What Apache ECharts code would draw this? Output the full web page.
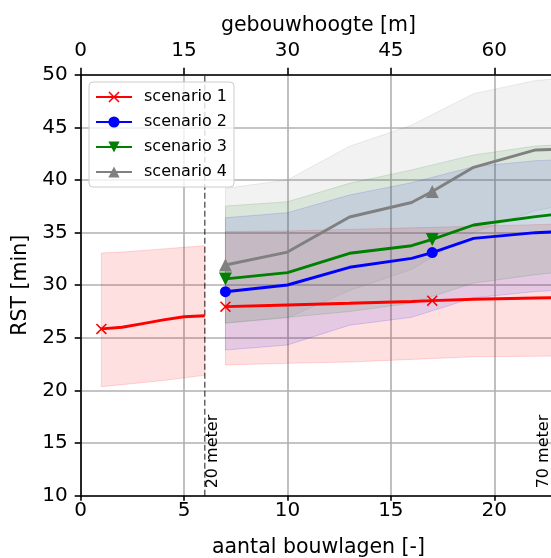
<!DOCTYPE html>
<html>
<head>
<meta charset="utf-8">
<script src="https://cdn.jsdelivr.net/npm/echarts@6/dist/echarts.min.js"></script>
<style>
  html, body { margin: 0; padding: 0; background: #ffffff; }
  #chart { width: 551px; height: 558px; }
</style>
</head>
<body>
<div id="chart"></div>
<script>
// ---------------- data ----------------
const seriesNames = ['scenario 1', 'scenario 2', 'scenario 3', 'scenario 4'];

// scenario 1, left part (low-rise)
const s1LeftX = [1, 2, 3, 4, 5, 6];
const s1LeftY = [25.85, 26.0, 26.35, 26.7, 27.0, 27.1];
const s1LeftLow  = [20.36, 20.55, 20.75, 20.95, 21.2, 21.44];
const s1LeftHigh = [33.05, 33.15, 33.3, 33.45, 33.6, 33.75];

// right part (all scenarios), number of floors
const lineX = [7, 10, 13, 16, 17, 19, 22, 23];
const s1Y = [27.96, 28.12, 28.28, 28.45, 28.53, 28.66, 28.78, 28.81];
const s2Y = [29.38, 30.02, 31.7, 32.55, 33.1, 34.45, 34.99, 35.08];
const s3Y = [30.6, 31.19, 33.03, 33.75, 34.35, 35.72, 36.51, 36.74];
const s4Y = [31.92, 33.15, 36.48, 37.86, 38.9, 41.2, 42.85, 42.9];

// uncertainty bands (right part)
const bandX = [7, 10, 13, 16, 19, 22, 23];
const s1Low  = [22.42, 22.58, 22.7, 22.95, 23.2, 23.25, 23.27];
const s1High = [35.1, 35.15, 35.3, 35.45, 35.6, 35.75, 35.8];
const s2Low  = [23.84, 24.32, 26.2, 26.95, 28.8, 29.4, 29.5];
const s2High = [36.41, 36.89, 38.57, 39.74, 41.26, 41.83, 41.9];
const s3Low  = [26.4, 26.95, 27.5, 28.3, 30.2, 31.0, 31.2];
const s3High = [37.52, 37.93, 39.68, 40.95, 42.37, 43.23, 43.32];
const s4Low  = [26.4, 26.9, 29.5, 31.5, 35.0, 37.1, 37.45];
const s4High = [39.2, 40.0, 43.2, 45.2, 48.2, 49.45, 49.6];

// markers only at these x values
const markerX = [1, 7, 17];

// reference height line and annotations
const refLineX = [6];
const annotX = [6, 22];
const annotY = [10.7, 10.7];
const annotText = ['20 meter', '70 meter'];

// axes
const xMin = 0, xMax = 23, xInterval = 5;
const metersPerFloor = 3;
const topInterval = 15;
const yMin = 10, yMax = 50, yInterval = 5;
const xName = 'aantal bouwlagen [-]';
const topName = 'gebouwhoogte [m]';
const yName = 'RST [min]';

// ---------------- styling ----------------
const FONT = 'DejaVu Sans';
const colors = ['#ff0000', '#0000ff', '#008000', '#808080'];
const bandFill = ['rgba(255,0,0,0.12)', 'rgba(0,0,255,0.1)', 'rgba(0,128,0,0.1)', 'rgba(128,128,128,0.1)'];
const bandEdge = ['rgba(255,0,0,0.15)', 'rgba(0,0,255,0.15)', 'rgba(0,128,0,0.15)', 'rgba(128,128,128,0.15)'];
const xPath = 'path://M2,0L10,8L18,0L20,2L12,10L20,18L18,20L10,12L2,20L0,18L8,10L0,2Z';
const symbols = [xPath, 'circle', 'triangle', 'triangle'];
const symbolRot = [0, 0, 180, 0];
const symbolSizes = [11, 11, 13, 13];

function lineData(xs, ys) {
  return xs.map((x, i) => {
    const show = markerX.indexOf(x) >= 0;
    return { value: [x, ys[i]], symbol: show ? undefined : 'none', symbolSize: show ? undefined : 0 };
  });
}

function bandSeries(xs, lo, hi, k) {
  return {
    type: 'custom',
    silent: true,
    z: 1,
    clip: true,
    data: xs.map((x, i) => [x, lo[i], hi[i]]),
    encode: { x: 0, y: [1, 2] },
    renderItem: function (params, api) {
      if (params.dataIndex !== 0) return;
      const pts = [];
      for (let i = 0; i < xs.length; i++) pts.push(api.coord([xs[i], hi[i]]));
      for (let i = xs.length - 1; i >= 0; i--) pts.push(api.coord([xs[i], lo[i]]));
      return {
        type: 'polygon',
        shape: { points: pts },
        style: { fill: bandFill[k], stroke: bandEdge[k], lineWidth: 1 }
      };
    }
  };
}

function lineSeries(name, xs, ys, k) {
  return {
    name: name,
    type: 'line',
    z: 5,
    data: lineData(xs, ys),
    symbol: symbols[k],
    symbolRotate: symbolRot[k],
    symbolSize: symbolSizes[k],
    showSymbol: true,
    symbolKeepAspect: true,
    lineStyle: { color: colors[k], width: 2.9 },
    itemStyle: { color: colors[k], borderWidth: 0 },
    emphasis: { disabled: true },
    animation: false
  };
}

const series = [
  bandSeries(s1LeftX, s1LeftLow, s1LeftHigh, 0),
  bandSeries(bandX, s1Low, s1High, 0),
  bandSeries(bandX, s2Low, s2High, 1),
  bandSeries(bandX, s3Low, s3High, 2),
  bandSeries(bandX, s4Low, s4High, 3),
  {
    type: 'line',
    z: 3,
    silent: true,
    symbol: 'none',
    data: [[refLineX[0], yMin], [refLineX[0], yMax]],
    lineStyle: { color: 'rgba(0,0,0,0.6)', width: 1.5, type: [6, 3] },
    animation: false
  },
  {
    type: 'custom',
    silent: true,
    z: 6,
    data: annotX.map((x, i) => [x, annotY[i]]),
    encode: { x: 0, y: 1 },
    renderItem: function (params, api) {
      const p = api.coord([annotX[params.dataIndex], annotY[params.dataIndex]]);
      return {
        type: 'text',
        x: p[0],
        y: p[1],
        rotation: Math.PI / 2,
        style: {
          text: annotText[params.dataIndex],
          font: '16px "DejaVu Sans"',
          fill: '#000',
          align: 'left',
          verticalAlign: 'top'
        }
      };
    }
  },
  lineSeries(seriesNames[0], s1LeftX, s1LeftY, 0),
  lineSeries(seriesNames[0], lineX, s1Y, 0),
  lineSeries(seriesNames[1], lineX, s2Y, 1),
  lineSeries(seriesNames[2], lineX, s3Y, 2),
  lineSeries(seriesNames[3], lineX, s4Y, 3)
];

const axisLabelStyle = { color: '#000', fontFamily: FONT, fontSize: 20 };

const option = {
  animation: false,
  backgroundColor: '#ffffff',
  textStyle: { fontFamily: FONT },
  grid: { left: 80.7, top: 74.7, width: 475.6, height: 421, containLabel: false, outerBoundsMode: 'none' },
  legend: {
    data: seriesNames,
    orient: 'vertical',
    left: 89,
    top: 82,
    itemWidth: 36,
    itemHeight: 14,
    itemGap: 9,
    padding: [7, 7, 7, 6],
    backgroundColor: 'rgba(255,255,255,0.8)',
    borderColor: '#cccccc',
    borderWidth: 1,
    borderRadius: 4,
    textStyle: { fontFamily: FONT, fontSize: 16, color: '#000', lineHeight: 16, padding: [0, 0, 0, 7] },
    selectedMode: false
  },
  xAxis: [
    {
      type: 'value',
      position: 'bottom',
      min: xMin, max: xMax, interval: xInterval,
      name: xName,
      nameLocation: 'middle',
      nameGap: 41,
      nameTextStyle: { color: '#000', fontFamily: FONT, fontSize: 20.5 },
      axisLine: { show: true, onZero: false, lineStyle: { color: '#000', width: 1.6 } },
      axisTick: { show: true, length: 5, lineStyle: { color: '#000', width: 1.6 } },
      axisLabel: Object.assign({ margin: 5, showMaxLabel: false }, axisLabelStyle),
      splitLine: { show: true, lineStyle: { color: '#b0b0b0', width: 1.6 } }
    },
    {
      type: 'value',
      position: 'top',
      min: xMin * metersPerFloor, max: xMax * metersPerFloor, interval: topInterval,
      name: topName,
      nameLocation: 'middle',
      nameGap: 31,
      nameTextStyle: { color: '#000', fontFamily: FONT, fontSize: 20.5, lineHeight: 20, padding: [0, 0, -5, 0] },
      axisLine: { show: true, onZero: false, lineStyle: { color: '#000', width: 1.6 } },
      axisTick: { show: true, length: 7, lineStyle: { color: '#000', width: 1.6 } },
      axisLabel: Object.assign({ margin: 14, showMaxLabel: false }, axisLabelStyle),
      splitLine: { show: false }
    }
  ],
  yAxis: {
    type: 'value',
    min: yMin, max: yMax, interval: yInterval,
    name: yName,
    nameLocation: 'middle',
    nameGap: 50,
    nameRotate: 90,
    nameTextStyle: { color: '#000', fontFamily: FONT, fontSize: 20.5 },
    axisLine: { show: true, onZero: false, lineStyle: { color: '#000', width: 1.6 } },
    axisTick: { show: true, length: 6, lineStyle: { color: '#000', width: 1.6 } },
    axisLabel: Object.assign({ margin: 13 }, axisLabelStyle),
    splitLine: { show: true, lineStyle: { color: '#b0b0b0', width: 1.6 } }
  },
  series: series
};

const chart = echarts.init(document.getElementById('chart'), null, { renderer: 'canvas' });
chart.setOption(option);
</script>
</body>
</html>
